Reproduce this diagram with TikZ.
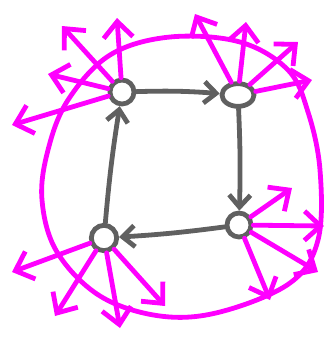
\documentclass[tikz,border=0pt]{standalone}
\usepackage{tikz}
\usetikzlibrary{arrows.meta,positioning,calc,shapes.geometric}
\definecolor{sketchgray}{RGB}{96,96,96}
\definecolor{sketchpink}{RGB}{255,0,255}

\begin{document}
\begin{tikzpicture}[
    x=0.75pt, y=-0.75pt,
    state/.style={circle, draw=sketchgray, line width=3.6pt, inner sep=0pt, minimum size=18pt},
    edge/.style={-{Straight Barb[length=9pt, width=16pt, line width=3.6pt]}, draw=sketchgray, line width=3.6pt, line cap=round},
    ray/.style={-{Straight Barb[length=12pt, width=22pt, line width=3.6pt]}, draw=sketchpink, line width=3.6pt, line cap=round},
    hull/.style={draw=sketchpink, line width=3.6pt}
]
\useasboundingbox (0,0) rectangle (327,337);

% States
\node[state] (tl) at (122,92) {};
\node[state, ellipse, minimum width=24pt, minimum height=17pt] (tr) at (238,95) {};
\node[state] (br) at (239,225) {};
\node[state, minimum size=19pt] (bl) at (104,238) {};

% Cycle
\draw[edge] (tl) to[bend left=3] (tr);
\draw[edge] (tr) to[bend left=2] (br);
\draw[edge] (br) to[bend left=2] (bl);
\draw[edge] (bl) to[bend left=2] (tl);

% Outline
\draw[hull] plot[smooth cycle, tension=0.6] coordinates {
    (170,37) (240,42) (288,70) (308,112) (320,170) (318,240) (290,283)
    (220,312) (160,316) (100,296) (57,252) (42,200) (48,150) (68,100) (110,55)};

% Free ends
\coordinate (tl1) at (62,26);
\coordinate (tl2) at (117,18);
\coordinate (tl3) at (48,74);
\coordinate (tl4) at (12,125);
\coordinate (tr1) at (195,14);
\coordinate (tr2) at (246,22);
\coordinate (tr3) at (298,42);
\coordinate (tr4) at (312,80);
\coordinate (br1) at (292,188);
\coordinate (br2) at (324,226);
\coordinate (br3) at (318,272);
\coordinate (br4) at (270,300);
\coordinate (bl1) at (12,272);
\coordinate (bl2) at (55,316);
\coordinate (bl3) at (120,328);
\coordinate (bl4) at (165,306);

% Rays
\foreach \s in {tl,tr,br,bl}
  \foreach \i in {1,...,4}
    \draw[ray] (\s) -- (\s\i);
\end{tikzpicture}
\end{document}
